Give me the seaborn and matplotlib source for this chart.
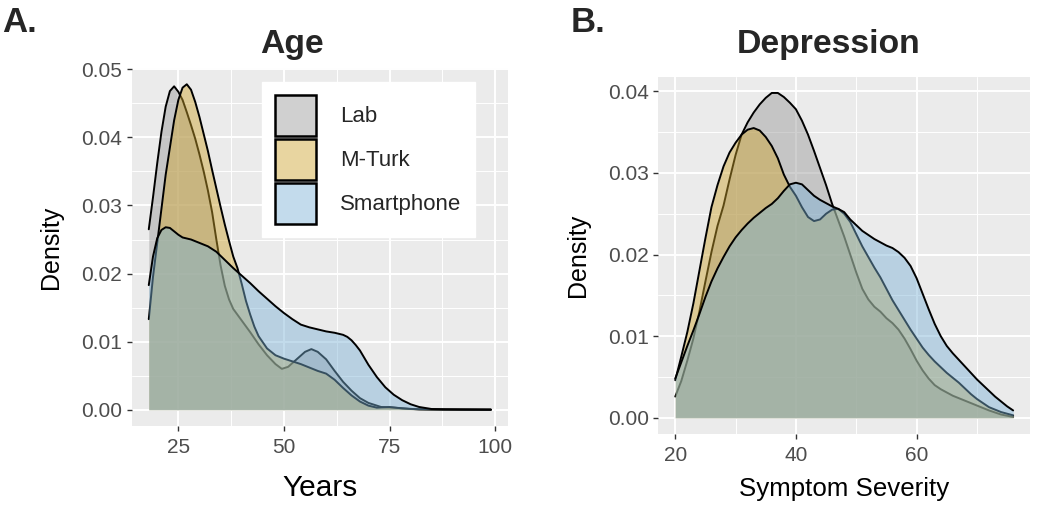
import numpy as np
import pandas as pd
import seaborn as sns
import matplotlib.pyplot as plt
from matplotlib.patches import Patch
from matplotlib.colors import to_rgba
from matplotlib.ticker import MultipleLocator, FormatStrFormatter

groups = ['Lab', 'M-Turk', 'Smartphone']
fill_cols = ['#979797', '#cca22c', '#7ab1d5']
fill_alpha = 0.45

# --- Age (density curves) ---
age_lab_x = [18, 19, 20, 21, 22, 23, 24, 25, 26, 27, 28, 29, 30, 31, 32, 33, 34, 35, 36, 37, 38,
             40, 42, 44, 46, 48, 49.5, 51, 53, 55, 56.5, 58, 60, 62, 64, 66, 68, 70, 73, 76, 80, 85, 99]
age_lab_y = [0.0265, 0.0312, 0.0362, 0.0408, 0.0445, 0.0468, 0.0475, 0.0467, 0.0455, 0.0437, 0.0418,
             0.0398, 0.0375, 0.0350, 0.0322, 0.0290, 0.0250, 0.0212, 0.0182, 0.0162, 0.0148,
             0.0131, 0.0114, 0.0096, 0.0080, 0.0067, 0.0060, 0.0063, 0.0074, 0.0085, 0.0089, 0.0085,
             0.0074, 0.0057, 0.0041, 0.0028, 0.0017, 0.0010, 0.0004, 0.0003, 0.0001, 0.00003, 0.0]

age_mturk_x = [18, 19, 20, 21, 22, 23, 24, 25, 26, 27, 28, 29, 30, 31, 32, 33, 34, 35, 36, 37, 38, 39,
               40, 41, 42, 43, 44, 46, 48, 50, 52, 54, 56, 58, 60, 62, 64, 66, 68, 70, 72, 75, 78, 82, 99]
age_mturk_y = [0.0133, 0.0195, 0.0245, 0.0295, 0.0345, 0.0385, 0.0425, 0.0455, 0.0473, 0.0478, 0.0470,
               0.0452, 0.0430, 0.0405, 0.0380, 0.0352, 0.0325, 0.0298, 0.0272, 0.0248, 0.0225, 0.0208,
               0.0185, 0.0160, 0.0140, 0.0122, 0.0108, 0.0090, 0.0080, 0.0075, 0.0071, 0.0067, 0.0062,
               0.0057, 0.0053, 0.0044, 0.0032, 0.0021, 0.0012, 0.0006, 0.0003, 0.0004, 0.0002, 0.00005, 0.0]

age_smart_x = [18, 19, 20, 21, 22, 23, 24, 25, 26, 28, 30, 32, 34, 36, 38, 40, 42, 44, 46, 48, 50, 52,
               54, 56, 58, 60, 62, 64, 65, 66, 67, 68, 70, 72, 74, 76, 78, 80, 82, 85, 88, 92, 99]
age_smart_y = [0.0183, 0.0225, 0.0252, 0.0264, 0.0268, 0.0267, 0.0262, 0.0257, 0.0253, 0.0250, 0.0245,
               0.0240, 0.0232, 0.0220, 0.0208, 0.0197, 0.0186, 0.0174, 0.0163, 0.0152, 0.0142, 0.0133,
               0.0125, 0.0121, 0.0118, 0.0115, 0.0113, 0.0110, 0.0107, 0.0102, 0.0095, 0.0087, 0.0066,
               0.0048, 0.0033, 0.0022, 0.0014, 0.0008, 0.0004, 0.0001, 0.00005, 0.00003, 0.00002]

# --- Depression ---
dep_lab_x = [20, 21, 22, 23, 24, 25, 26, 27, 28, 29, 30, 31, 32, 33, 34, 35, 36, 37, 38, 39, 40, 41,
             42, 43, 44, 45, 46, 47, 48, 49, 50, 51, 52, 53, 54, 55, 56, 57, 58, 59, 60, 61, 62, 63,
             64, 66, 68, 70, 72, 74, 76]
dep_lab_y = [0.0026, 0.0045, 0.0070, 0.0097, 0.0130, 0.0167, 0.0203, 0.0235, 0.0260, 0.0292, 0.0322,
             0.0347, 0.0362, 0.0374, 0.0384, 0.0392, 0.0398, 0.0398, 0.0393, 0.0386, 0.0378, 0.0364,
             0.0347, 0.0327, 0.0306, 0.0285, 0.0262, 0.0242, 0.0222, 0.0200, 0.0178, 0.0158, 0.0145,
             0.0136, 0.0130, 0.0122, 0.0116, 0.0108, 0.0097, 0.0084, 0.0070, 0.0058, 0.0048, 0.0040,
             0.0035, 0.0027, 0.0021, 0.0015, 0.0009, 0.0004, 0.0001]

dep_mturk_x = [20, 21, 22, 23, 24, 25, 26, 27, 28, 29, 30, 31, 32, 33, 34, 35, 36, 37, 38, 39, 40, 41,
               42, 43, 44, 45, 46, 47, 48, 49, 50, 51, 52, 53, 54, 55, 56, 57, 58, 59, 60, 61, 62, 63,
               64, 65, 66, 67, 68, 69, 70, 72, 74, 76]
dep_mturk_y = [0.0046, 0.0075, 0.0105, 0.0140, 0.0180, 0.0220, 0.0258, 0.0285, 0.0308, 0.0325, 0.0337,
               0.0347, 0.0353, 0.0355, 0.0352, 0.0344, 0.0333, 0.0318, 0.0298, 0.0283, 0.0272, 0.0258,
               0.0246, 0.0241, 0.0243, 0.0250, 0.0255, 0.0256, 0.0250, 0.0240, 0.0225, 0.0210, 0.0197,
               0.0184, 0.0172, 0.0158, 0.0144, 0.0132, 0.0120, 0.0108, 0.0097, 0.0086, 0.0077, 0.0069,
               0.0062, 0.0055, 0.0049, 0.0043, 0.0036, 0.0029, 0.0023, 0.0013, 0.0007, 0.0003]

dep_smart_x = [20, 21, 22, 23, 24, 25, 26, 27, 28, 29, 30, 31, 32, 33, 34, 35, 36, 37, 38, 39, 40, 41,
               42, 43, 44, 45, 46, 47, 48, 49, 50, 51, 52, 53, 54, 55, 56, 57, 58, 59, 60, 61, 62, 63,
               64, 65, 66, 67, 68, 69, 70, 71, 72, 73, 74, 75, 76]
dep_smart_y = [0.0048, 0.0068, 0.0088, 0.0107, 0.0127, 0.0148, 0.0167, 0.0183, 0.0197, 0.0210, 0.0221,
               0.0230, 0.0238, 0.0245, 0.0251, 0.0257, 0.0262, 0.0269, 0.0278, 0.0286, 0.0288, 0.0286,
               0.0279, 0.0272, 0.0267, 0.0263, 0.0259, 0.0256, 0.0252, 0.0243, 0.0236, 0.0229, 0.0224,
               0.0219, 0.0215, 0.0211, 0.0208, 0.0203, 0.0196, 0.0186, 0.0171, 0.0152, 0.0133, 0.0115,
               0.0100, 0.0088, 0.0079, 0.0071, 0.0063, 0.0055, 0.0047, 0.0040, 0.0033, 0.0026, 0.0020,
               0.0014, 0.0009]


def long_df(parts):
    return pd.concat([pd.DataFrame({'x': xs, 'density': ys, 'group': g}) for g, xs, ys in parts],
                     ignore_index=True)


age = long_df([('Lab', age_lab_x, age_lab_y), ('M-Turk', age_mturk_x, age_mturk_y),
               ('Smartphone', age_smart_x, age_smart_y)])
dep = long_df([('Lab', dep_lab_x, dep_lab_y), ('M-Turk', dep_mturk_x, dep_mturk_y),
               ('Smartphone', dep_smart_x, dep_smart_y)])

sns.set_theme(style='darkgrid', rc={'axes.facecolor': '#EBEBEB', 'grid.color': 'white'})
plt.rcParams['font.family'] = ['Liberation Sans', 'DejaVu Sans']

fig = plt.figure(figsize=(10.5, 5.09), dpi=100)
axA = fig.add_axes([0.1254, 0.1631, 0.3584, 0.7033])
axB = fig.add_axes([0.627, 0.1473, 0.354, 0.702])


def draw(ax, df, xmaj, xmin_, ymaj):
    for i, (g, col) in enumerate(zip(groups, fill_cols)):
        sub = df[df.group == g]
        ax.fill_between(sub.x, 0, sub.density, color=col, alpha=fill_alpha, lw=0, zorder=2 + 2 * i)
        sns.lineplot(data=sub, x='x', y='density', ax=ax, color='black', lw=1.4,
                     estimator=None, sort=False, zorder=3 + 2 * i)
    lo, hi = df.x.min(), df.x.max()
    r = hi - lo
    ax.set_xlim(lo - 0.05 * r, hi + 0.05 * r)
    top = df.density.max()
    ax.set_ylim(-0.05 * top, 1.05 * top)
    ax.xaxis.set_major_locator(MultipleLocator(xmaj))
    ax.xaxis.set_minor_locator(MultipleLocator(xmin_))
    ax.yaxis.set_major_locator(MultipleLocator(ymaj))
    ax.yaxis.set_minor_locator(MultipleLocator(ymaj / 2))
    ax.yaxis.set_major_formatter(FormatStrFormatter('%.2f'))
    ax.grid(which='major', color='white', lw=1.4)
    ax.grid(which='minor', color='white', lw=0.7)
    ax.set_axisbelow(True)
    for s in ax.spines.values():
        s.set_visible(False)
    ax.tick_params(which='major', length=3.5, width=1, color='#333333', labelcolor='#4D4D4D',
                   labelsize=15, bottom=True, left=True)
    ax.tick_params(axis='x', pad=5)
    ax.tick_params(axis='y', pad=3.5)
    ax.tick_params(which='minor', length=0)


draw(axA, age, 25, 12.5, 0.01)
draw(axB, dep, 20, 10, 0.01)

axA.set_xlabel('Years', fontsize=21.5, color='black')
axA.xaxis.set_label_coords(0.5, -0.135)
axA.set_ylabel('Density', fontsize=18, color='black')
axA.yaxis.set_label_coords(-0.183, 0.5)

axB.set_xlabel('Symptom Severity', fontsize=18.6, color='black')
axB.xaxis.set_label_coords(0.5, -0.121)
axB.set_ylabel('Density', fontsize=18, color='black')
axB.yaxis.set_label_coords(-0.184, 0.5)

handles = [Patch(facecolor=to_rgba(c, fill_alpha), edgecolor='black', lw=1.8, label=g)
           for g, c in zip(groups, fill_cols)]
leg = axA.legend(handles=handles, loc='upper left', bbox_to_anchor=(0.3463, 0.9617),
                 borderaxespad=0, fontsize=16, frameon=True, fancybox=False, framealpha=1,
                 facecolor='white', edgecolor='white', handlelength=1.85, handleheight=2.46,
                 labelspacing=0.14, handletextpad=1.1, borderpad=0.58)
leg.set_zorder(20)

fig.text(0.278, 0.896, 'Age', ha='center', va='baseline', fontsize=24.3, fontweight='bold')
fig.text(0.789, 0.896, 'Depression', ha='center', va='baseline', fontsize=24.3, fontweight='bold')
fig.text(0.002, 0.937, 'A.', ha='left', va='baseline', fontsize=25, fontweight='bold')
fig.text(0.543, 0.937, 'B.', ha='left', va='baseline', fontsize=25, fontweight='bold')

fig.savefig('out.png', dpi=100, facecolor='white')
